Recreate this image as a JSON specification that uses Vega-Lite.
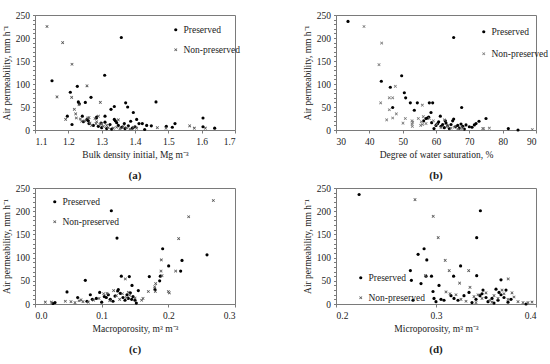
{
  "$schema": "https://vega.github.io/schema/vega-lite/v6.json",
  "background": "white",
  "padding": {"left": 0, "top": 9, "right": 4, "bottom": 2},
  "spacing": {"row": 0, "column": 60},
  "config": {
    "font": "Liberation Serif, Times New Roman, serif",
    "view": {"stroke": "#7a7a7a", "strokeWidth": 1},
    "axis": {"grid": false, "domainColor": "#7a7a7a", "tickColor": "#7a7a7a", "tickSize": 3, "labelFont": "Liberation Serif, Times New Roman, serif", "titleFont": "Liberation Serif, Times New Roman, serif", "labelFontSize": 9.5, "titleFontSize": 9.5, "titleFontWeight": "normal", "labelColor": "#222", "titleColor": "#222", "labelPadding": 3, "titlePadding": 4, "labelOverlap": false},
    "legend": {"labelFont": "Liberation Serif, Times New Roman, serif", "labelFontSize": 9.5, "labelColor": "#222", "rowPadding": 9, "symbolSize": 10, "labelOffset": 3, "padding": 0, "title": null},
    "title": {"font": "Liberation Serif, Times New Roman, serif", "fontSize": 11, "fontWeight": "bold", "color": "#222", "orient": "bottom", "offset": 11}
  },
  "datasets": {
    "a": [
      {"x":1.151,"y":107,"g":"Preserved"},{"x":1.206,"y":82,"g":"Preserved"},{"x":1.227,"y":95,"g":"Preserved"},{"x":1.230,"y":61,"g":"Preserved"},{"x":1.233,"y":57,"g":"Preserved"},{"x":1.268,"y":71,"g":"Preserved"},{"x":1.251,"y":60,"g":"Preserved"},{"x":1.309,"y":119,"g":"Preserved"},{"x":1.359,"y":201,"g":"Preserved"},{"x":1.338,"y":51,"g":"Preserved"},{"x":1.328,"y":45,"g":"Preserved"},{"x":1.372,"y":59,"g":"Preserved"},{"x":1.378,"y":50,"g":"Preserved"},{"x":1.395,"y":38,"g":"Preserved"},{"x":1.463,"y":61,"g":"Preserved"},{"x":1.197,"y":30,"g":"Preserved"},{"x":1.211,"y":12,"g":"Preserved"},{"x":1.242,"y":30,"g":"Preserved"},{"x":1.256,"y":23,"g":"Preserved"},{"x":1.284,"y":26,"g":"Preserved"},{"x":1.310,"y":30,"g":"Preserved"},{"x":1.310,"y":17,"g":"Preserved"},{"x":1.298,"y":15,"g":"Preserved"},{"x":1.338,"y":23,"g":"Preserved"},{"x":1.341,"y":20,"g":"Preserved"},{"x":1.345,"y":16,"g":"Preserved"},{"x":1.387,"y":19,"g":"Preserved"},{"x":1.405,"y":23,"g":"Preserved"},{"x":1.412,"y":14,"g":"Preserved"},{"x":1.422,"y":14,"g":"Preserved"},{"x":1.435,"y":10,"g":"Preserved"},{"x":1.449,"y":9,"g":"Preserved"},{"x":1.429,"y":1,"g":"Preserved"},{"x":1.494,"y":8,"g":"Preserved"},{"x":1.512,"y":6,"g":"Preserved"},{"x":1.520,"y":14,"g":"Preserved"},{"x":1.604,"y":26,"g":"Preserved"},{"x":1.604,"y":7,"g":"Preserved"},{"x":1.639,"y":4,"g":"Preserved"},{"x":1.245,"y":18,"g":"Preserved"},{"x":1.262,"y":14,"g":"Preserved"},{"x":1.275,"y":10,"g":"Preserved"},{"x":1.290,"y":8,"g":"Preserved"},{"x":1.300,"y":5,"g":"Preserved"},{"x":1.315,"y":3,"g":"Preserved"},{"x":1.325,"y":12,"g":"Preserved"},{"x":1.350,"y":10,"g":"Preserved"},{"x":1.360,"y":6,"g":"Preserved"},{"x":1.368,"y":14,"g":"Preserved"},{"x":1.380,"y":9,"g":"Preserved"},{"x":1.392,"y":4,"g":"Preserved"},{"x":1.400,"y":7,"g":"Preserved"},{"x":1.260,"y":20,"g":"Preserved"},{"x":1.285,"y":28,"g":"Preserved"},{"x":1.330,"y":2,"g":"Preserved"},{"x":1.370,"y":3,"g":"Preserved"},
      {"x":1.136,"y":225,"g":"Non-preserved"},{"x":1.183,"y":190,"g":"Non-preserved"},{"x":1.211,"y":143,"g":"Non-preserved"},{"x":1.166,"y":72,"g":"Non-preserved"},{"x":1.210,"y":71,"g":"Non-preserved"},{"x":1.256,"y":96,"g":"Non-preserved"},{"x":1.296,"y":60,"g":"Non-preserved"},{"x":1.232,"y":55,"g":"Non-preserved"},{"x":1.218,"y":45,"g":"Non-preserved"},{"x":1.192,"y":23,"g":"Non-preserved"},{"x":1.222,"y":35,"g":"Non-preserved"},{"x":1.224,"y":26,"g":"Non-preserved"},{"x":1.236,"y":24,"g":"Non-preserved"},{"x":1.250,"y":20,"g":"Non-preserved"},{"x":1.258,"y":26,"g":"Non-preserved"},{"x":1.265,"y":15,"g":"Non-preserved"},{"x":1.270,"y":10,"g":"Non-preserved"},{"x":1.280,"y":25,"g":"Non-preserved"},{"x":1.285,"y":18,"g":"Non-preserved"},{"x":1.290,"y":30,"g":"Non-preserved"},{"x":1.295,"y":12,"g":"Non-preserved"},{"x":1.305,"y":8,"g":"Non-preserved"},{"x":1.315,"y":10,"g":"Non-preserved"},{"x":1.320,"y":5,"g":"Non-preserved"},{"x":1.335,"y":4,"g":"Non-preserved"},{"x":1.345,"y":6,"g":"Non-preserved"},{"x":1.355,"y":3,"g":"Non-preserved"},{"x":1.365,"y":8,"g":"Non-preserved"},{"x":1.375,"y":5,"g":"Non-preserved"},{"x":1.385,"y":2,"g":"Non-preserved"},{"x":1.395,"y":6,"g":"Non-preserved"},{"x":1.405,"y":4,"g":"Non-preserved"},{"x":1.467,"y":5,"g":"Non-preserved"},{"x":1.564,"y":9,"g":"Non-preserved"},{"x":1.578,"y":4,"g":"Non-preserved"},{"x":1.611,"y":4,"g":"Non-preserved"},{"x":1.493,"y":4,"g":"Non-preserved"},{"x":1.262,"y":27,"g":"Non-preserved"},{"x":1.283,"y":14,"g":"Non-preserved"},{"x":1.240,"y":19,"g":"Non-preserved"},{"x":1.350,"y":22,"g":"Non-preserved"},{"x":1.300,"y":14,"g":"Non-preserved"}
    ],
    "b": [
      {"x":33.6,"y":236,"g":"Preserved"},{"x":65.3,"y":201,"g":"Preserved"},{"x":49.7,"y":118,"g":"Preserved"},{"x":43.6,"y":106,"g":"Preserved"},{"x":46.3,"y":93,"g":"Preserved"},{"x":50.5,"y":81,"g":"Preserved"},{"x":50.9,"y":70,"g":"Preserved"},{"x":52.3,"y":59,"g":"Preserved"},{"x":54.4,"y":59,"g":"Preserved"},{"x":58.0,"y":59,"g":"Preserved"},{"x":59.0,"y":59,"g":"Preserved"},{"x":47.0,"y":49,"g":"Preserved"},{"x":53.5,"y":43,"g":"Preserved"},{"x":58.5,"y":38,"g":"Preserved"},{"x":67.7,"y":49,"g":"Preserved"},{"x":61.3,"y":30,"g":"Preserved"},{"x":57.4,"y":26,"g":"Preserved"},{"x":75.0,"y":25,"g":"Preserved"},{"x":72.9,"y":19,"g":"Preserved"},{"x":57.0,"y":25,"g":"Preserved"},{"x":58.7,"y":16,"g":"Preserved"},{"x":59.4,"y":3,"g":"Preserved"},{"x":60.0,"y":10,"g":"Preserved"},{"x":60.5,"y":14,"g":"Preserved"},{"x":61.5,"y":8,"g":"Preserved"},{"x":62.0,"y":12,"g":"Preserved"},{"x":62.5,"y":5,"g":"Preserved"},{"x":63.0,"y":15,"g":"Preserved"},{"x":63.5,"y":9,"g":"Preserved"},{"x":64.0,"y":3,"g":"Preserved"},{"x":64.5,"y":12,"g":"Preserved"},{"x":65.0,"y":20,"g":"Preserved"},{"x":65.3,"y":24,"g":"Preserved"},{"x":65.8,"y":7,"g":"Preserved"},{"x":66.5,"y":10,"g":"Preserved"},{"x":67.0,"y":4,"g":"Preserved"},{"x":67.5,"y":13,"g":"Preserved"},{"x":68.0,"y":8,"g":"Preserved"},{"x":68.5,"y":2,"g":"Preserved"},{"x":69.0,"y":11,"g":"Preserved"},{"x":70.0,"y":7,"g":"Preserved"},{"x":70.8,"y":6,"g":"Preserved"},{"x":71.5,"y":11,"g":"Preserved"},{"x":72.0,"y":14,"g":"Preserved"},{"x":81.7,"y":3,"g":"Preserved"},{"x":84.6,"y":0,"g":"Preserved"},{"x":57.8,"y":28,"g":"Preserved"},{"x":56.3,"y":20,"g":"Preserved"},{"x":60.8,"y":18,"g":"Preserved"},{"x":62.8,"y":20,"g":"Preserved"},
      {"x":38.4,"y":225,"g":"Non-preserved"},{"x":43.7,"y":189,"g":"Non-preserved"},{"x":42.9,"y":142,"g":"Non-preserved"},{"x":47.8,"y":95,"g":"Non-preserved"},{"x":46.0,"y":70,"g":"Non-preserved"},{"x":47.0,"y":70,"g":"Non-preserved"},{"x":43.4,"y":59,"g":"Non-preserved"},{"x":46.0,"y":44,"g":"Non-preserved"},{"x":47.0,"y":26,"g":"Non-preserved"},{"x":48.1,"y":35,"g":"Non-preserved"},{"x":45.2,"y":22,"g":"Non-preserved"},{"x":50.8,"y":25,"g":"Non-preserved"},{"x":50.1,"y":15,"g":"Non-preserved"},{"x":52.8,"y":20,"g":"Non-preserved"},{"x":52.8,"y":13,"g":"Non-preserved"},{"x":52.9,"y":8,"g":"Non-preserved"},{"x":55.9,"y":54,"g":"Non-preserved"},{"x":54.7,"y":25,"g":"Non-preserved"},{"x":55.6,"y":18,"g":"Non-preserved"},{"x":56.2,"y":29,"g":"Non-preserved"},{"x":57.0,"y":14,"g":"Non-preserved"},{"x":55.4,"y":10,"g":"Non-preserved"},{"x":58.0,"y":25,"g":"Non-preserved"},{"x":59.2,"y":20,"g":"Non-preserved"},{"x":60.2,"y":12,"g":"Non-preserved"},{"x":61.5,"y":5,"g":"Non-preserved"},{"x":62.5,"y":22,"g":"Non-preserved"},{"x":63.5,"y":8,"g":"Non-preserved"},{"x":64.5,"y":4,"g":"Non-preserved"},{"x":65.5,"y":6,"g":"Non-preserved"},{"x":66.5,"y":2,"g":"Non-preserved"},{"x":67.5,"y":5,"g":"Non-preserved"},{"x":68.0,"y":3,"g":"Non-preserved"},{"x":74.0,"y":3,"g":"Non-preserved"},{"x":74.3,"y":3,"g":"Non-preserved"},{"x":76.0,"y":4,"g":"Non-preserved"},{"x":88.9,"y":1,"g":"Non-preserved"},{"x":53.0,"y":17,"g":"Non-preserved"},{"x":56.0,"y":12,"g":"Non-preserved"}
    ],
    "c": [
      {"x":0.1145,"y":201,"g":"Preserved"},{"x":0.123,"y":142,"g":"Preserved"},{"x":0.1915,"y":119,"g":"Preserved"},{"x":0.258,"y":106,"g":"Preserved"},{"x":0.2205,"y":94,"g":"Preserved"},{"x":0.2005,"y":82,"g":"Preserved"},{"x":0.2185,"y":71,"g":"Preserved"},{"x":0.188,"y":60,"g":"Preserved"},{"x":0.187,"y":50,"g":"Preserved"},{"x":0.1715,"y":59,"g":"Preserved"},{"x":0.1415,"y":59,"g":"Preserved"},{"x":0.1295,"y":60,"g":"Preserved"},{"x":0.0755,"y":51,"g":"Preserved"},{"x":0.1455,"y":40,"g":"Preserved"},{"x":0.18,"y":31,"g":"Preserved"},{"x":0.048,"y":26,"g":"Preserved"},{"x":0.155,"y":29,"g":"Preserved"},{"x":0.125,"y":31,"g":"Preserved"},{"x":0.030,"y":3,"g":"Preserved"},{"x":0.027,"y":1,"g":"Preserved"},{"x":0.064,"y":14,"g":"Preserved"},{"x":0.083,"y":20,"g":"Preserved"},{"x":0.097,"y":25,"g":"Preserved"},{"x":0.104,"y":16,"g":"Preserved"},{"x":0.110,"y":20,"g":"Preserved"},{"x":0.113,"y":10,"g":"Preserved"},{"x":0.117,"y":6,"g":"Preserved"},{"x":0.120,"y":17,"g":"Preserved"},{"x":0.124,"y":28,"g":"Preserved"},{"x":0.128,"y":23,"g":"Preserved"},{"x":0.132,"y":14,"g":"Preserved"},{"x":0.138,"y":20,"g":"Preserved"},{"x":0.140,"y":12,"g":"Preserved"},{"x":0.143,"y":24,"g":"Preserved"},{"x":0.147,"y":16,"g":"Preserved"},{"x":0.150,"y":8,"g":"Preserved"},{"x":0.152,"y":2,"g":"Preserved"},{"x":0.086,"y":10,"g":"Preserved"},{"x":0.078,"y":6,"g":"Preserved"},{"x":0.092,"y":12,"g":"Preserved"},{"x":0.100,"y":4,"g":"Preserved"},{"x":0.107,"y":14,"g":"Preserved"},{"x":0.135,"y":8,"g":"Preserved"},{"x":0.145,"y":10,"g":"Preserved"},
      {"x":0.2675,"y":223,"g":"Non-preserved"},{"x":0.2305,"y":188,"g":"Non-preserved"},{"x":0.2155,"y":141,"g":"Non-preserved"},{"x":0.1895,"y":95,"g":"Non-preserved"},{"x":0.189,"y":71,"g":"Non-preserved"},{"x":0.1905,"y":61,"g":"Non-preserved"},{"x":0.211,"y":71,"g":"Non-preserved"},{"x":0.1355,"y":54,"g":"Non-preserved"},{"x":0.181,"y":44,"g":"Non-preserved"},{"x":0.1795,"y":37,"g":"Non-preserved"},{"x":0.1805,"y":27,"g":"Non-preserved"},{"x":0.200,"y":27,"g":"Non-preserved"},{"x":0.2015,"y":24,"g":"Non-preserved"},{"x":0.170,"y":27,"g":"Non-preserved"},{"x":0.162,"y":12,"g":"Non-preserved"},{"x":0.0155,"y":4,"g":"Non-preserved"},{"x":0.0245,"y":4,"g":"Non-preserved"},{"x":0.0455,"y":6,"g":"Non-preserved"},{"x":0.054,"y":5,"g":"Non-preserved"},{"x":0.060,"y":3,"g":"Non-preserved"},{"x":0.066,"y":7,"g":"Non-preserved"},{"x":0.072,"y":5,"g":"Non-preserved"},{"x":0.080,"y":4,"g":"Non-preserved"},{"x":0.088,"y":8,"g":"Non-preserved"},{"x":0.096,"y":12,"g":"Non-preserved"},{"x":0.103,"y":22,"g":"Non-preserved"},{"x":0.108,"y":23,"g":"Non-preserved"},{"x":0.118,"y":29,"g":"Non-preserved"},{"x":0.122,"y":18,"g":"Non-preserved"},{"x":0.131,"y":22,"g":"Non-preserved"},{"x":0.137,"y":14,"g":"Non-preserved"},{"x":0.142,"y":19,"g":"Non-preserved"},{"x":0.150,"y":13,"g":"Non-preserved"},{"x":0.160,"y":8,"g":"Non-preserved"},{"x":0.112,"y":7,"g":"Non-preserved"},{"x":0.069,"y":9,"g":"Non-preserved"},{"x":0.127,"y":10,"g":"Non-preserved"},{"x":0.140,"y":25,"g":"Non-preserved"}
    ],
    "d": [
      {"x":0.2231,"y":236,"g":"Preserved"},{"x":0.3444,"y":201,"g":"Preserved"},{"x":0.3407,"y":143,"g":"Preserved"},{"x":0.2881,"y":119,"g":"Preserved"},{"x":0.2821,"y":107,"g":"Preserved"},{"x":0.2908,"y":95,"g":"Preserved"},{"x":0.3246,"y":82,"g":"Preserved"},{"x":0.2744,"y":72,"g":"Preserved"},{"x":0.2754,"y":51,"g":"Preserved"},{"x":0.2850,"y":44,"g":"Preserved"},{"x":0.2900,"y":60,"g":"Preserved"},{"x":0.2955,"y":60,"g":"Preserved"},{"x":0.3176,"y":60,"g":"Preserved"},{"x":0.3407,"y":61,"g":"Preserved"},{"x":0.3650,"y":52,"g":"Preserved"},{"x":0.2770,"y":8,"g":"Preserved"},{"x":0.2970,"y":27,"g":"Preserved"},{"x":0.2980,"y":12,"g":"Preserved"},{"x":0.3000,"y":5,"g":"Preserved"},{"x":0.3030,"y":40,"g":"Preserved"},{"x":0.3050,"y":10,"g":"Preserved"},{"x":0.3080,"y":8,"g":"Preserved"},{"x":0.3150,"y":18,"g":"Preserved"},{"x":0.3180,"y":12,"g":"Preserved"},{"x":0.3220,"y":8,"g":"Preserved"},{"x":0.3280,"y":18,"g":"Preserved"},{"x":0.3330,"y":25,"g":"Preserved"},{"x":0.3360,"y":3,"g":"Preserved"},{"x":0.3400,"y":10,"g":"Preserved"},{"x":0.3440,"y":18,"g":"Preserved"},{"x":0.3470,"y":30,"g":"Preserved"},{"x":0.3500,"y":14,"g":"Preserved"},{"x":0.3520,"y":5,"g":"Preserved"},{"x":0.3560,"y":12,"g":"Preserved"},{"x":0.3600,"y":32,"g":"Preserved"},{"x":0.3620,"y":8,"g":"Preserved"},{"x":0.3650,"y":20,"g":"Preserved"},{"x":0.3680,"y":14,"g":"Preserved"},{"x":0.3700,"y":30,"g":"Preserved"},{"x":0.3720,"y":4,"g":"Preserved"},{"x":0.3750,"y":10,"g":"Preserved"},{"x":0.3900,"y":0,"g":"Preserved"},{"x":0.3580,"y":2,"g":"Preserved"},{"x":0.3630,"y":25,"g":"Preserved"},{"x":0.3460,"y":22,"g":"Preserved"},
      {"x":0.279,"y":225,"g":"Non-preserved"},{"x":0.2972,"y":189,"g":"Non-preserved"},{"x":0.3022,"y":143,"g":"Non-preserved"},{"x":0.3092,"y":94,"g":"Non-preserved"},{"x":0.3132,"y":72,"g":"Non-preserved"},{"x":0.3327,"y":72,"g":"Non-preserved"},{"x":0.3236,"y":45,"g":"Non-preserved"},{"x":0.334,"y":36,"g":"Non-preserved"},{"x":0.2894,"y":61,"g":"Non-preserved"},{"x":0.3722,"y":54,"g":"Non-preserved"},{"x":0.310,"y":26,"g":"Non-preserved"},{"x":0.314,"y":22,"g":"Non-preserved"},{"x":0.320,"y":20,"g":"Non-preserved"},{"x":0.325,"y":10,"g":"Non-preserved"},{"x":0.330,"y":6,"g":"Non-preserved"},{"x":0.338,"y":16,"g":"Non-preserved"},{"x":0.342,"y":20,"g":"Non-preserved"},{"x":0.346,"y":12,"g":"Non-preserved"},{"x":0.350,"y":24,"g":"Non-preserved"},{"x":0.354,"y":8,"g":"Non-preserved"},{"x":0.358,"y":18,"g":"Non-preserved"},{"x":0.362,"y":12,"g":"Non-preserved"},{"x":0.366,"y":30,"g":"Non-preserved"},{"x":0.368,"y":22,"g":"Non-preserved"},{"x":0.372,"y":10,"g":"Non-preserved"},{"x":0.376,"y":24,"g":"Non-preserved"},{"x":0.378,"y":15,"g":"Non-preserved"},{"x":0.382,"y":5,"g":"Non-preserved"},{"x":0.387,"y":3,"g":"Non-preserved"},{"x":0.392,"y":3,"g":"Non-preserved"},{"x":0.396,"y":4,"g":"Non-preserved"},{"x":0.340,"y":3,"g":"Non-preserved"},{"x":0.356,"y":4,"g":"Non-preserved"}
    ]
  },
  "columns": 2,
  "resolve": {"scale": {"shape": "independent", "color": "independent"}, "legend": {"shape": "independent", "color": "independent"}},
  "concat": [
    {
      "data": {"name": "a"},
      "width": 200, "height": 115,
      "title": "(a)",
      "mark": {"type": "point", "filled": true, "opacity": 1},
      "encoding": {
        "x": {"field": "x", "type": "quantitative", "scale": {"domain": [1.1, 1.7], "nice": false}, "axis": {"values": [1.1,1.2,1.3,1.4,1.5,1.6,1.7], "format": ".1f", "title": "Bulk density initial, Mg m⁻³"}},
        "y": {"field": "y", "type": "quantitative", "scale": {"domain": [0, 250], "nice": false}, "axis": {"title": "Air permeability, mm h⁻¹", "values": [0,10,20,30,40,50,60,70,80,90,100,110,120,130,140,150,160,170,180,190,200,210,220,230,240,250], "labelExpr": "datum.value % 50 === 0 ? datum.label : ''", "labelOverlap": false, "tickSize": 2.5}},
        "shape": {"field": "g", "type": "nominal", "scale": {"domain": ["Preserved", "Non-preserved"], "range": ["circle", "M-1,-0.65L-0.65,-1L0,-0.35L0.65,-1L1,-0.65L0.35,0L1,0.65L0.65,1L0,0.35L-0.65,1L-1,0.65L-0.35,0Z"]}, "legend": {"orient": "none", "legendX": 136, "legendY": 10}},
        "color": {"field": "g", "type": "nominal", "scale": {"domain": ["Preserved", "Non-preserved"], "range": ["#000000", "#555555"]}, "legend": {"orient": "none", "legendX": 136, "legendY": 10}},
        "size": {"value": 10}
      }
    },
    {
      "data": {"name": "b"},
      "width": 200, "height": 115,
      "title": "(b)",
      "mark": {"type": "point", "filled": true, "opacity": 1},
      "encoding": {
        "x": {"field": "x", "type": "quantitative", "scale": {"domain": [30, 90], "nice": false}, "axis": {"values": [30,40,50,60,70,80,90], "title": "Degree of water saturation, %"}},
        "y": {"field": "y", "type": "quantitative", "scale": {"domain": [0, 250], "nice": false}, "axis": {"title": "Air permeability, mm h⁻¹", "values": [0,10,20,30,40,50,60,70,80,90,100,110,120,130,140,150,160,170,180,190,200,210,220,230,240,250], "labelExpr": "datum.value % 50 === 0 ? datum.label : ''", "labelOverlap": false, "tickSize": 2.5}},
        "shape": {"field": "g", "type": "nominal", "scale": {"domain": ["Preserved", "Non-preserved"], "range": ["circle", "M-1,-0.65L-0.65,-1L0,-0.35L0.65,-1L1,-0.65L0.35,0L1,0.65L0.65,1L0,0.35L-0.65,1L-1,0.65L-0.35,0Z"]}, "legend": {"orient": "none", "legendX": 143, "legendY": 12, "rowPadding": 11}},
        "color": {"field": "g", "type": "nominal", "scale": {"domain": ["Preserved", "Non-preserved"], "range": ["#000000", "#777777"]}, "legend": {"orient": "none", "legendX": 143, "legendY": 12, "rowPadding": 11}},
        "size": {"value": 10}
      }
    },
    {
      "data": {"name": "c"},
      "width": 200, "height": 116,
      "title": "(c)",
      "mark": {"type": "point", "filled": true, "opacity": 1},
      "encoding": {
        "x": {"field": "x", "type": "quantitative", "scale": {"domain": [0, 0.3], "nice": false}, "axis": {"values": [0,0.1,0.2,0.3], "format": ".1f", "title": "Macroporosity, m³ m⁻³"}},
        "y": {"field": "y", "type": "quantitative", "scale": {"domain": [0, 250], "nice": false}, "axis": {"title": "Air permeability, mm h⁻¹", "values": [0,10,20,30,40,50,60,70,80,90,100,110,120,130,140,150,160,170,180,190,200,210,220,230,240,250], "labelExpr": "datum.value % 50 === 0 ? datum.label : ''", "labelOverlap": false, "tickSize": 2.5}},
        "shape": {"field": "g", "type": "nominal", "scale": {"domain": ["Preserved", "Non-preserved"], "range": ["circle", "M-1,-0.65L-0.65,-1L0,-0.35L0.65,-1L1,-0.65L0.35,0L1,0.65L0.65,1L0,0.35L-0.65,1L-1,0.65L-0.35,0Z"]}, "legend": {"orient": "none", "legendX": 15, "legendY": 9, "rowPadding": 9}},
        "color": {"field": "g", "type": "nominal", "scale": {"domain": ["Preserved", "Non-preserved"], "range": ["#000000", "#555555"]}, "legend": {"orient": "none", "legendX": 15, "legendY": 9, "rowPadding": 9}},
        "size": {"value": 10}
      }
    },
    {
      "data": {"name": "d"},
      "width": 200, "height": 116,
      "title": "(d)",
      "mark": {"type": "point", "filled": true, "opacity": 1},
      "encoding": {
        "x": {"field": "x", "type": "quantitative", "scale": {"domain": [0.2, 0.4], "nice": false}, "axis": {"values": [0.2,0.3,0.4], "format": ".1f", "title": "Microporosity, m³ m⁻³"}},
        "y": {"field": "y", "type": "quantitative", "scale": {"domain": [0, 250], "nice": false}, "axis": {"title": "Air permeability, mm h⁻¹", "values": [0,10,20,30,40,50,60,70,80,90,100,110,120,130,140,150,160,170,180,190,200,210,220,230,240,250], "labelExpr": "datum.value % 50 === 0 ? datum.label : ''", "labelOverlap": false, "tickSize": 2.5}},
        "shape": {"field": "g", "type": "nominal", "scale": {"domain": ["Preserved", "Non-preserved"], "range": ["circle", "M-1,-0.65L-0.65,-1L0,-0.35L0.65,-1L1,-0.65L0.35,0L1,0.65L0.65,1L0,0.35L-0.65,1L-1,0.65L-0.35,0Z"]}, "legend": {"orient": "none", "legendX": 20, "legendY": 85, "rowPadding": 9}},
        "color": {"field": "g", "type": "nominal", "scale": {"domain": ["Preserved", "Non-preserved"], "range": ["#000000", "#555555"]}, "legend": {"orient": "none", "legendX": 20, "legendY": 85, "rowPadding": 9}},
        "size": {"value": 10}
      }
    }
  ]
}
